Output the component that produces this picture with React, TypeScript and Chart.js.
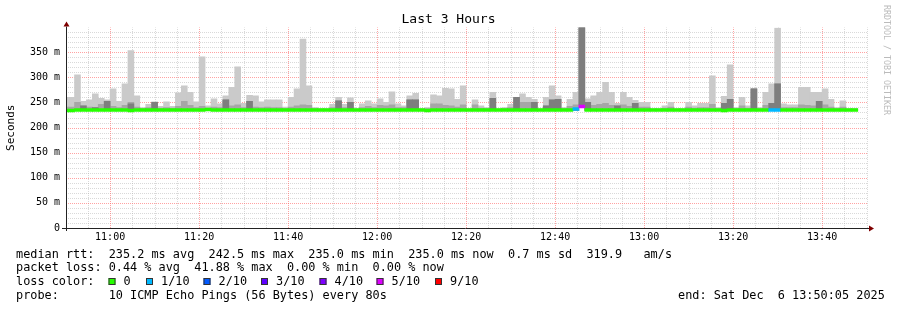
import { useEffect, useRef } from 'react';
import { Chart, registerables } from 'chart.js';

Chart.register(...registerables);

// ---------- texts ----------
const TITLE = 'Last 3 Hours';
const Y_TITLE = 'Seconds';
const WATERMARK = 'RRDTOOL / TOBI OETIKER';
const statsLines = [
  'median rtt:  235.2 ms avg  242.5 ms max  235.0 ms min  235.0 ms now  0.7 ms sd  319.9   am/s',
  'packet loss: 0.44 % avg  41.88 % max  0.00 % min  0.00 % now',
];
const LOSS_TITLE = 'loss color:';
const probeLine = 'probe:       10 ICMP Echo Pings (56 Bytes) every 80s';
const endLine = 'end: Sat Dec  6 13:50:05 2025';

// ---------- time axis ----------
const RANGE_START = '10:50:05';
const RANGE_END = '13:50:05';
const FIRST_BIN_START = '10:49:20';
const BIN_SECONDS = 80;
const X_MINOR_STEP_S = 300;
const X_MAJOR_STEP_S = 1200;

// ---------- value axis (ms) ----------
const Y_MAX_MS = 399;
const yTickValues = [0, 50, 100, 150, 200, 250, 300, 350];

// ---------- series (one value per 80 s bin, ms) ----------
const smokeMax = [
  260, 260, 305, 252, 255, 267, 258, 255, 277, 252,
  287, 353, 263, 240, 246, 251, 242, 251, 242, 269,
  283, 270, 251, 341, 243, 257, 247, 263, 280, 321,
  248, 264, 263, 251, 255, 255, 255, 241, 260, 277,
  376, 283, 240, 238, 238, 246, 260, 246, 259, 238,
  247, 253, 247, 257, 250, 271, 247, 243, 263, 268,
  238, 240, 265, 263, 278, 277, 256, 283, 238, 255,
  243, 240, 270, 238, 240, 246, 260, 267, 260, 256,
  238, 260, 283, 263, 240, 256, 270, 400, 257, 263,
  270, 290, 270, 248, 270, 260, 254, 250, 250, 238,
  238, 243, 250, 238, 238, 250, 243, 248, 248, 303,
  240, 262, 325, 240, 260, 243, 277, 240, 270, 287,
  398, 247, 245, 245, 280, 280, 270, 270, 277, 256,
  240, 253, 238, 238,
];
const smokeMid = [
  241, 241, 250, 243, 241, 240, 246, 252, 242, 240,
  244, 250, 241, 238, 240, 250, 239, 240, 239, 242,
  252, 244, 240, 242, 239, 241, 240, 255, 243, 245,
  240, 252, 241, 240, 241, 240, 240, 238, 241, 243,
  245, 244, 238, 237, 237, 240, 253, 240, 250, 237,
  240, 242, 240, 244, 243, 245, 240, 240, 255, 255,
  237, 238, 247, 247, 244, 243, 241, 245, 237, 245,
  239, 238, 258, 237, 238, 240, 260, 250, 250, 250,
  237, 243, 255, 256, 238, 242, 245, 400, 250, 244,
  246, 248, 244, 243, 245, 242, 248, 241, 241, 237,
  237, 239, 241, 237, 237, 241, 239, 240, 240, 246,
  238, 248, 256, 238, 243, 239, 277, 238, 244, 248,
  287, 240, 240, 240, 245, 244, 243, 252, 245, 241,
  238, 241, 237, 237,
];
const smokeDark = [
  236, 236, 236, 243, 236, 240, 236, 252, 236, 236,
  236, 247, 236, 236, 236, 250, 236, 236, 236, 236,
  236, 236, 236, 236, 236, 236, 236, 255, 236, 236,
  236, 252, 236, 236, 236, 236, 236, 236, 236, 236,
  236, 236, 236, 236, 236, 236, 253, 236, 250, 236,
  236, 236, 236, 236, 236, 236, 236, 236, 255, 255,
  236, 236, 236, 236, 236, 236, 236, 236, 236, 236,
  236, 236, 258, 236, 236, 236, 260, 236, 236, 250,
  236, 243, 255, 256, 236, 236, 236, 400, 250, 236,
  236, 236, 236, 243, 236, 236, 248, 236, 236, 236,
  236, 236, 236, 236, 236, 236, 236, 236, 236, 236,
  236, 248, 256, 236, 236, 236, 277, 236, 236, 248,
  287, 236, 236, 236, 236, 236, 236, 252, 236, 236,
  236, 236, 236, 236,
];
const pingMin = [
  234, 234, 234, 234, 234, 234, 234, 234, 234, 234,
  234, 234, 234, 234, 234, 234, 234, 234, 234, 234,
  234, 234, 234, 234, 234, 234, 234, 234, 234, 234,
  234, 234, 234, 234, 234, 234, 234, 234, 234, 234,
  234, 234, 234, 234, 234, 234, 234, 234, 234, 234,
  234, 234, 234, 234, 234, 234, 234, 234, 234, 234,
  234, 234, 234, 234, 234, 234, 234, 234, 234, 234,
  234, 234, 234, 234, 234, 234, 234, 234, 234, 234,
  234, 234, 234, 234, 234, 234, 234, 245, 234, 234,
  234, 234, 234, 234, 234, 234, 234, 234, 234, 234,
  234, 234, 234, 234, 234, 234, 234, 234, 234, 234,
  234, 234, 234, 234, 234, 234, 234, 234, 234, 234,
  234, 234, 234, 234, 234, 234, 234, 234, 234, 234,
  234, 234, 234, 234,
];
const medianRtt = [
  234, 234, 235, 235, 235, 235, 235, 235, 235, 235,
  235, 234, 235, 235, 235, 235, 235, 235, 235, 235,
  235, 235, 235, 235, 236, 235, 235, 235, 235, 235,
  235, 235, 235, 235, 235, 235, 235, 235, 235, 235,
  235, 235, 235, 235, 235, 235, 235, 235, 235, 235,
  235, 235, 235, 235, 235, 235, 235, 235, 235, 235,
  235, 234, 235, 235, 235, 235, 235, 235, 235, 235,
  235, 235, 235, 235, 235, 235, 235, 235, 235, 235,
  235, 235, 235, 235, 235, 235, 237, 242, 235, 235,
  235, 235, 235, 235, 235, 235, 235, 235, 235, 235,
  235, 235, 235, 235, 235, 235, 235, 235, 235, 235,
  235, 234, 235, 235, 235, 235, 235, 235, 235, 235,
  235, 235, 235, 235, 235, 235, 235, 235, 235, 235,
  235, 235, 235, 235,
];
const lossTenths = [
  0, 0, 0, 0, 0, 0, 0, 0, 0, 0,
  0, 0, 0, 0, 0, 0, 0, 0, 0, 0,
  0, 0, 0, 0, 0, 0, 0, 0, 0, 0,
  0, 0, 0, 0, 0, 0, 0, 0, 0, 0,
  0, 0, 0, 0, 0, 0, 0, 0, 0, 0,
  0, 0, 0, 0, 0, 0, 0, 0, 0, 0,
  0, 0, 0, 0, 0, 0, 0, 0, 0, 0,
  0, 0, 0, 0, 0, 0, 0, 0, 0, 0,
  0, 0, 0, 0, 0, 0, 1, 5, 0, 0,
  0, 0, 0, 0, 0, 0, 0, 0, 0, 0,
  0, 0, 0, 0, 0, 0, 0, 0, 0, 0,
  0, 0, 0, 0, 0, 0, 0, 0, 0, 1,
  1, 0, 0, 0, 0, 0, 0, 0, 0, 0,
  0, 0, 0, 0,
];

// ---------- loss legend ----------
const lossLegendLabels = ['0', '1/10', '2/10', '3/10', '4/10', '5/10', '9/10'];
const lossLegendTenths = [0, 1, 2, 3, 4, 5, 9];
const lossColors: Record<number, string> = {
  0: '#26ff00', 1: '#00b8ff', 2: '#0059ff', 3: '#5e00ff', 4: '#7e00ff', 5: '#dd00ff', 9: '#ff0000',
};

// ---------- style ----------
const MONO = 'DejaVu Sans Mono';
const LIGHT_SMOKE = '#cacaca';
const MID_SMOKE = '#a6a6a6';
const DARK_SMOKE = '#7e7e7e';
const GRID_MINOR = 'rgba(170,170,170,0.45)';
const GRID_MAJOR = 'rgba(255,100,100,0.6)';
const AXIS_COLOR = '#222';
const ARROW_COLOR = '#7f0000';
const MEDIAN_HALF_MS = 2.9;

const toSec = (s: string) => {
  const [h, m, sec] = s.split(':').map(Number);
  return h * 3600 + m * 60 + sec;
};
const fmtHM = (v: number) => {
  const h = Math.floor(v / 3600);
  const m = Math.floor((v % 3600) / 60);
  return `${String(h).padStart(2, '0')}:${String(m).padStart(2, '0')}`;
};

const binCenters = smokeMax.map((_, i) => toSec(FIRST_BIN_START) + BIN_SECONDS * i + BIN_SECONDS / 2);

const decorPlugin = {
  id: 'rrdDecor',
  beforeDraw(chart: any) {
    const { ctx } = chart;
    ctx.save();
    ctx.fillStyle = '#fff';
    ctx.fillRect(0, 0, chart.width, chart.height);
    ctx.restore();
  },
  beforeDatasetsDraw(chart: any) {
    const { ctx, chartArea: a, scales } = chart;
    const xs = scales.x;
    const ys = scales.y;
    ctx.save();
    ctx.lineWidth = 1;
    ctx.setLineDash([1, 1]);
    const drawH = (major: boolean) => {
      for (let v = 10; v < Y_MAX_MS; v += 10) {
        if ((v % 50 === 0) !== major) continue;
        const py = Math.round(ys.getPixelForValue(v)) + 0.5;
        ctx.strokeStyle = major ? GRID_MAJOR : GRID_MINOR;
        ctx.beginPath();
        ctx.moveTo(a.left, py);
        ctx.lineTo(a.right, py);
        ctx.stroke();
      }
    };
    const drawV = (major: boolean) => {
      const first = Math.ceil(xs.min / X_MINOR_STEP_S) * X_MINOR_STEP_S;
      for (let t = first; t < xs.max; t += X_MINOR_STEP_S) {
        if ((t % X_MAJOR_STEP_S === 0) !== major) continue;
        const px = Math.round(xs.getPixelForValue(t)) + 0.5;
        ctx.strokeStyle = major ? GRID_MAJOR : GRID_MINOR;
        ctx.beginPath();
        ctx.moveTo(px, a.bottom);
        ctx.lineTo(px, a.top);
        ctx.stroke();
      }
    };
    drawH(false);
    drawV(false);
    drawH(true);
    drawV(true);
    ctx.restore();
  },
  afterDatasetsDraw(chart: any) {
    const { ctx, chartArea: a } = chart;
    ctx.save();
    // axes
    ctx.setLineDash([]);
    ctx.lineWidth = 1;
    ctx.strokeStyle = AXIS_COLOR;
    const by = Math.round(a.bottom) + 0.5;
    const lx = Math.round(a.left) + 0.5;
    ctx.beginPath();
    ctx.moveTo(a.left - 4, by);
    ctx.lineTo(a.right + 2, by);
    ctx.moveTo(lx, a.bottom + 3);
    ctx.lineTo(lx, a.top - 1);
    ctx.stroke();
    // arrows
    ctx.fillStyle = ARROW_COLOR;
    ctx.beginPath();
    ctx.moveTo(a.right + 2, by - 3);
    ctx.lineTo(a.right + 7, by);
    ctx.lineTo(a.right + 2, by + 3);
    ctx.closePath();
    ctx.fill();
    ctx.beginPath();
    ctx.moveTo(lx - 3, a.top - 1);
    ctx.lineTo(lx, a.top - 6);
    ctx.lineTo(lx + 3, a.top - 1);
    ctx.closePath();
    ctx.fill();

    // title
    ctx.fillStyle = '#000';
    ctx.textBaseline = 'middle';
    ctx.textAlign = 'center';
    ctx.font = `13px "${MONO}"`;
    ctx.fillText(TITLE, chart.width / 2, 19.5);

    // y title
    ctx.save();
    ctx.translate(11, (a.top + a.bottom) / 2);
    ctx.rotate(-Math.PI / 2);
    ctx.font = `11px "${MONO}"`;
    ctx.fillText(Y_TITLE, 0, 0);
    ctx.restore();

    // watermark
    ctx.save();
    ctx.translate(886, 5);
    ctx.rotate(Math.PI / 2);
    ctx.textAlign = 'left';
    ctx.fillStyle = '#bbbbbb';
    ctx.font = `8.3px "${MONO}"`;
    ctx.fillText(WATERMARK, 0, 0);
    ctx.restore();

    // legend rows
    ctx.textAlign = 'left';
    ctx.font = `11.85px "${MONO}"`;
    ctx.fillStyle = '#000';
    ctx.fillText(statsLines[0], 16, 254.7);
    ctx.fillText(statsLines[1], 16, 268.2);
    ctx.fillText(LOSS_TITLE, 16, 282.2);
    const boxX = [108.5, 146, 203.5, 261, 319.5, 376.5, 435];
    lossLegendLabels.forEach((lab, i) => {
      const bx = boxX[i];
      ctx.fillStyle = lossColors[lossLegendTenths[i]];
      ctx.fillRect(bx, 278, 7, 7);
      ctx.strokeStyle = '#333';
      ctx.lineWidth = 1;
      ctx.strokeRect(bx + 0.5, 278.5, 6, 6);
      ctx.fillStyle = '#000';
      ctx.fillText(lab, bx + 15, 282.2);
    });
    ctx.fillText(probeLine, 16, 295.8);
    ctx.fillText(endLine, 678, 295.8);
    ctx.restore();
  },
};

export default function App() {
  const ref = useRef<HTMLCanvasElement | null>(null);
  useEffect(() => {
    if (!ref.current) return;
    const mk = (top: number[]) => binCenters.map((x, i) => ({ x, y: [pingMin[i], top[i]] }));
    const barCommon = {
      type: 'bar' as const,
      grouped: false,
      barPercentage: 1,
      categoryPercentage: 1,
      borderWidth: 0,
      borderSkipped: false,
    };
    const chart = new Chart(ref.current, {
      type: 'bar',
      data: {
        datasets: [
          {
            ...barCommon,
            label: 'median',
            data: binCenters.map((x, i) => ({ x, y: [medianRtt[i] - MEDIAN_HALF_MS, medianRtt[i] + MEDIAN_HALF_MS] })),
            backgroundColor: (c: any) => lossColors[lossTenths[c.dataIndex]] ?? lossColors[0],
          },
          { ...barCommon, label: 'dark', data: mk(smokeDark), backgroundColor: DARK_SMOKE },
          { ...barCommon, label: 'mid', data: mk(smokeMid), backgroundColor: MID_SMOKE },
          { ...barCommon, label: 'light', data: mk(smokeMax), backgroundColor: LIGHT_SMOKE },
        ] as any,
      },
      options: {
        animation: false,
        responsive: false,
        devicePixelRatio: 1,
        layout: { padding: { left: 0, right: 30, top: 27.6, bottom: 0 } },
        plugins: { legend: { display: false }, tooltip: { enabled: false }, title: { display: false } },
        scales: {
          x: {
            type: 'linear',
            offset: false,
            min: toSec(RANGE_START),
            max: toSec(RANGE_END),
            grid: { display: false, drawTicks: false, offset: false },
            border: { display: false },
            afterBuildTicks: (s: any) => {
              const first = Math.ceil(s.min / X_MINOR_STEP_S) * X_MINOR_STEP_S;
              const t: any[] = [];
              for (let v = first; v <= s.max; v += X_MINOR_STEP_S) t.push({ value: v });
              s.ticks = t;
            },
            afterFit: (s: any) => { s.height = 82; },
            ticks: {
              autoSkip: false,
              maxRotation: 0,
              padding: 3,
              color: '#000',
              font: { family: MONO, size: 10 },
              callback: (v: any) => (Number(v) % X_MAJOR_STEP_S === 0 ? fmtHM(Number(v)) : ''),
            },
          },
          y: {
            type: 'linear',
            min: 0,
            max: Y_MAX_MS,
            grid: { display: false, drawTicks: false },
            border: { display: false },
            afterBuildTicks: (s: any) => { s.ticks = yTickValues.map((v) => ({ value: v })); },
            afterFit: (s: any) => { s.width = 66; },
            ticks: {
              padding: 6,
              color: '#000',
              font: { family: MONO, size: 10 },
              callback: (v: any) => (Number(v) === 0 ? '0' : `${v} m`),
            },
          },
        },
      } as any,
      plugins: [decorPlugin],
    });
    return () => chart.destroy();
  }, []);
  return (
    <div style={{ position: 'absolute', left: 0, top: 0, width: 897, height: 310, background: '#fff' }}>
      <canvas ref={ref} width={897} height={310} style={{ display: 'block', width: 897, height: 310 }} />
    </div>
  );
}
